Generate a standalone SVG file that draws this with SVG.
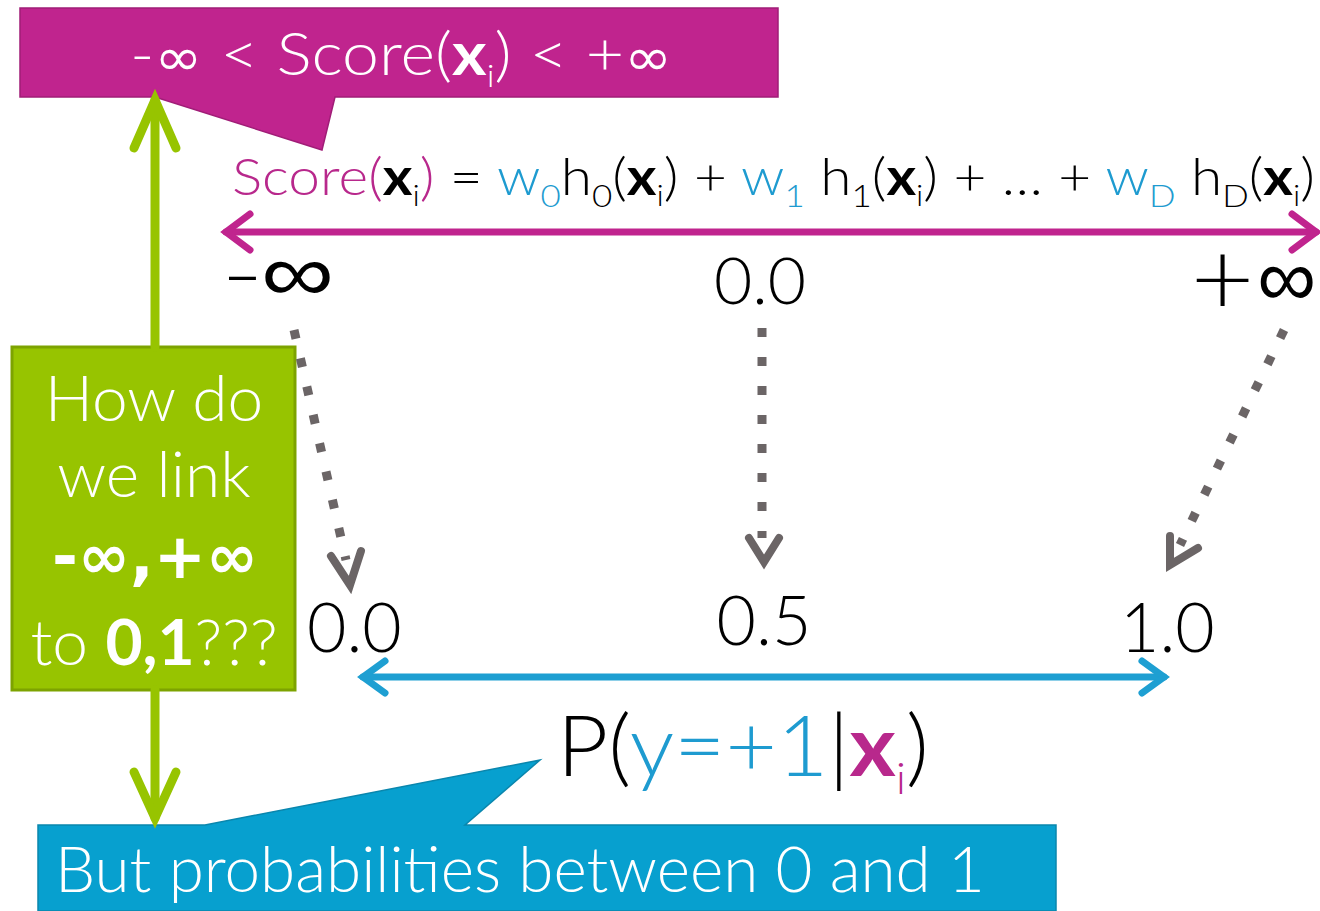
<svg xmlns="http://www.w3.org/2000/svg" width="1320" height="911" viewBox="0 0 1320 911">
<defs>
<style>
text{font-family:Lato,"Open Sans","Liberation Sans",sans-serif;font-weight:300}
.inf{font-family:"DejaVu Sans",sans-serif;font-weight:400}
.thin{font-weight:200}
.w{fill:#fff}
.k{fill:#000}
.m{fill:#B8288C}
.b{fill:#1E9BD0}
.bd{font-weight:700}
.dot{stroke:#6b6566;stroke-width:9;stroke-dasharray:9 20;fill:none}
.head{stroke:#6b6566;stroke-width:8;fill:none;stroke-linecap:round;stroke-linejoin:miter}
</style>
</defs>
<rect width="1320" height="911" fill="#fff"/>
<g id="score-range">
<path d="M20 8H778V97H335L322 150L155 97H20Z" fill="#C0248E" stroke="#a01d77" stroke-width="1.5"/>
<text x="130" y="75" font-size="60" class="w" textLength="542" lengthAdjust="spacingAndGlyphs">-<tspan class="inf" font-size="52">∞</tspan> &lt; Score(<tspan class="bd">x</tspan><tspan font-size="32" dy="12">i</tspan><tspan dy="-12">) &lt; +</tspan><tspan class="inf" font-size="52">∞</tspan></text>
</g>
<g id="formula">
<text x="232" y="195" font-size="52" textLength="1083" lengthAdjust="spacingAndGlyphs"><tspan class="m">Score(</tspan><tspan class="k bd">x</tspan><tspan class="k" font-size="30" dy="11">i</tspan><tspan class="m" dy="-11">)</tspan><tspan class="k"> = </tspan><tspan class="b">w</tspan><tspan class="b" font-size="32" dy="12">0</tspan><tspan class="k" dy="-12">h</tspan><tspan class="k" font-size="32" dy="12">0</tspan><tspan class="k" dy="-12">(</tspan><tspan class="k bd">x</tspan><tspan class="k" font-size="30" dy="11">i</tspan><tspan class="k" dy="-11">) + </tspan><tspan class="b">w</tspan><tspan class="b" font-size="32" dy="12">1</tspan><tspan class="k" dy="-12"> h</tspan><tspan class="k" font-size="32" dy="12">1</tspan><tspan class="k" dy="-12">(</tspan><tspan class="k bd">x</tspan><tspan class="k" font-size="30" dy="11">i</tspan><tspan class="k" dy="-11">) + … + </tspan><tspan class="b">w</tspan><tspan class="b" font-size="32" dy="12">D</tspan><tspan class="k" dy="-12"> h</tspan><tspan class="k" font-size="32" dy="12">D</tspan><tspan class="k" dy="-12">(</tspan><tspan class="k bd">x</tspan><tspan class="k" font-size="30" dy="11">i</tspan><tspan class="k" dy="-11">)</tspan></text>
</g>
<g id="score-labels">
<text x="224" y="301" class="k inf thin" font-size="82" textLength="110" lengthAdjust="spacingAndGlyphs">-∞</text>
<text x="760" y="304" class="k" font-size="66" text-anchor="middle">0.0</text>
<text x="1188" y="306" class="k inf thin" font-size="82" textLength="128" lengthAdjust="spacingAndGlyphs">+∞</text>
</g>
<g id="prob-labels" font-size="68">
<text x="307" y="652" class="k">0.0</text>
<text x="764" y="645" class="k" text-anchor="middle">0.5</text>
<text x="1120" y="652" class="k">1.0</text>
</g>
<g id="prob-expr">
<text x="557" y="776" font-size="84" textLength="372" lengthAdjust="spacingAndGlyphs"><tspan class="k">P(</tspan><tspan class="b">y=+1</tspan><tspan class="k">|</tspan><tspan class="m bd">x</tspan><tspan class="m" font-size="44" dy="18">i</tspan><tspan class="k" dy="-18">)</tspan></text>
</g>
<g id="question">
<rect x="12" y="347" width="283" height="343" fill="#97C400" stroke="#7da300" stroke-width="3"/>
<text x="154" y="421" font-size="64" class="w" text-anchor="middle">How do</text>
<text x="154" y="497" font-size="64" class="w" text-anchor="middle">we link</text>
<text x="52" y="578" font-size="62" class="w inf bd" textLength="206" lengthAdjust="spacingAndGlyphs">-∞,+∞</text>
<text x="154" y="665" font-size="64" class="w" text-anchor="middle">to <tspan class="bd">0,1</tspan>???</text>
</g>
<g id="prob-range">
<path d="M38 825H205L540 760L465 825H1056V911H38Z" fill="#07A0CF" stroke="#0a86ad" stroke-width="1.5"/>
<text x="55" y="892" font-size="63" class="w" textLength="930" lengthAdjust="spacingAndGlyphs">But probabilities between 0 and 1</text>
</g>
<g id="connectors">
<g stroke="#C0248E" stroke-width="7" fill="none" stroke-linecap="round">
<path d="M226 232H1316"/>
<path d="M250 214L226 232L250 250"/>
<path d="M1292 214L1316 232L1292 250"/>
</g>
<g stroke="#1E9FD2" stroke-width="7" fill="none" stroke-linecap="round">
<path d="M363 677H1164"/>
<path d="M385 661L363 677L385 693"/>
<path d="M1142 661L1164 677L1142 693"/>
</g>
<g stroke="#97C400" stroke-width="9" fill="none" stroke-linecap="round">
<path d="M155 347V100"/>
<path d="M134 148L155 100L176 148"/>
<path d="M155 690V818"/>
<path d="M134 772L155 818L176 772"/>
</g>
<path class="dot" d="M294 330L346 560"/>
<path class="head" d="M331 556L350 585L361 551"/>
<path class="dot" d="M762 328V538"/>
<path class="head" d="M749 538L764 562L779 538"/>
<path class="dot" d="M1284 330L1180 545"/>
<path class="head" d="M1170 536L1170 565L1198 548"/>
</g>
</svg>
